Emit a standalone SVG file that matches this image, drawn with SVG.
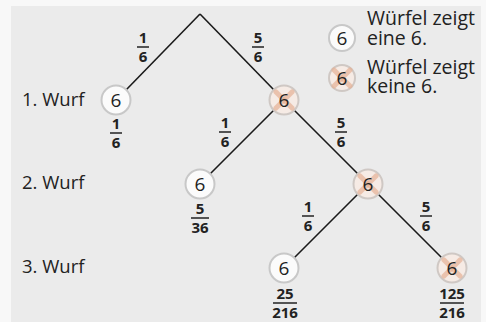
<svg xmlns="http://www.w3.org/2000/svg" width="486" height="322" viewBox="0 0 486 322">
<defs>
<style>
.t{font-family:"Open Sans","Liberation Sans",sans-serif;fill:#222;}
.lab{font-size:18.5px;}
.leg{font-size:19.5px;}
.dig{font-size:19px;text-anchor:middle;}
.fr{font-size:15px;font-weight:bold;text-anchor:middle;}
.bar{stroke:#222;stroke-width:1.5;}
.edge{stroke:#1a1a1a;stroke-width:1.6;fill:none;}
.n{fill:#fbfbfb;stroke:#c8c8c8;stroke-width:2;}
.nx{fill:#f6ebe5;stroke:#cfc8c4;stroke-width:2;}
.x{stroke:#e6b296;stroke-width:5;stroke-linecap:round;opacity:0.7;}
</style>
<g id="cross"><line class="x" x1="-8" y1="-8" x2="8" y2="8"/><line class="x" x1="8" y1="-8" x2="-8" y2="8"/></g>
</defs>
<rect x="0" y="0" width="486" height="322" fill="#f8f8f8"/>
<rect x="11" y="6" width="470" height="316" fill="#ebebeb"/>

<g id="connectors">
<line class="edge" x1="200" y1="14" x2="126" y2="90"/>
<line class="edge" x1="200" y1="14" x2="274" y2="90"/>
<line class="edge" x1="274" y1="110" x2="210" y2="174"/>
<line class="edge" x1="294" y1="110" x2="358" y2="174"/>
<line class="edge" x1="358" y1="194" x2="294" y2="258"/>
<line class="edge" x1="378" y1="194" x2="442" y2="258"/>
</g>

<g id="edge-labels">
<text class="t fr" x="143" y="43">1</text><line class="bar" x1="137" y1="47" x2="149" y2="47"/><text class="t fr" x="143" y="62">6</text>
<text class="t fr" x="258" y="43">5</text><line class="bar" x1="252" y1="47" x2="264" y2="47"/><text class="t fr" x="258" y="62">6</text>
<text class="t fr" x="225" y="128">1</text><line class="bar" x1="219" y1="132" x2="231" y2="132"/><text class="t fr" x="225" y="147">6</text>
<text class="t fr" x="341" y="128">5</text><line class="bar" x1="335" y1="132" x2="347" y2="132"/><text class="t fr" x="341" y="147">6</text>
<text class="t fr" x="308" y="212">1</text><line class="bar" x1="302" y1="216" x2="314" y2="216"/><text class="t fr" x="308" y="231">6</text>
<text class="t fr" x="426" y="212">5</text><line class="bar" x1="420" y1="216" x2="432" y2="216"/><text class="t fr" x="426" y="231">6</text>
</g>

<g id="row-labels">
<text class="t lab" x="22" y="106">1. Wurf</text>
<text class="t lab" x="22" y="189">2. Wurf</text>
<text class="t lab" x="22" y="273">3. Wurf</text>
</g>

<g id="n1">
<circle class="n" cx="116" cy="100" r="14.5"/>
<text class="t dig" x="116" y="106.5">6</text>
<text class="t fr" x="116" y="129">1</text><line class="bar" x1="110" y1="133" x2="122" y2="133"/><text class="t fr" x="116" y="148">6</text>
</g>
<g id="n1x">
<circle class="nx" cx="284" cy="100" r="14.5"/>
<use href="#cross" x="284" y="100"/>
<text class="t dig" x="284" y="106.5">6</text>
</g>
<g id="n2">
<circle class="n" cx="200" cy="184" r="14.5"/>
<text class="t dig" x="200" y="190.5">6</text>
<text class="t fr" x="200" y="214">5</text><line class="bar" x1="191" y1="218" x2="209" y2="218"/><text class="t fr" x="200" y="233">36</text>
</g>
<g id="n2x">
<circle class="nx" cx="368" cy="184" r="14.5"/>
<use href="#cross" x="368" y="184"/>
<text class="t dig" x="368" y="190.5">6</text>
</g>
<g id="n3">
<circle class="n" cx="284" cy="268" r="14.5"/>
<text class="t dig" x="284" y="274.5">6</text>
<text class="t fr" x="285" y="299">25</text><line class="bar" x1="273" y1="303" x2="297" y2="303"/><text class="t fr" x="285" y="318">216</text>
</g>
<g id="n3x">
<circle class="nx" cx="452" cy="268" r="14.5"/>
<use href="#cross" x="452" y="268"/>
<text class="t dig" x="452" y="274.5">6</text>
<text class="t fr" x="452" y="299">125</text><line class="bar" x1="440" y1="303" x2="464" y2="303"/><text class="t fr" x="452" y="318">216</text>
</g>

<g id="legend">
<circle class="n" cx="342" cy="38" r="13"/>
<text class="t dig" x="342" y="44.5">6</text>
<text class="t leg" x="367" y="25">Würfel zeigt</text>
<text class="t leg" x="367" y="45">eine 6.</text>
<circle class="nx" cx="342" cy="78" r="13"/>
<use href="#cross" x="342" y="78"/>
<text class="t dig" x="342" y="84.5">6</text>
<text class="t leg" x="367" y="74">Würfel zeigt</text>
<text class="t leg" x="367" y="93">keine 6.</text>
</g>
</svg>
